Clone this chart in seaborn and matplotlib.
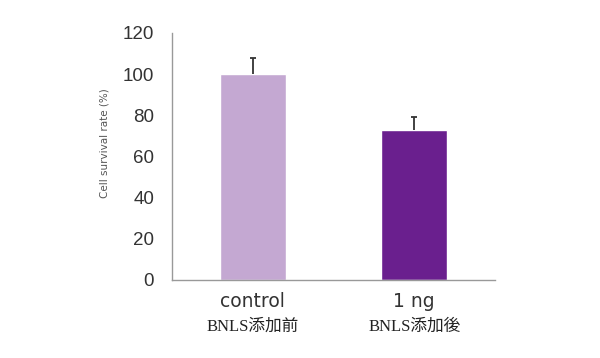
import seaborn as sns
import pandas as pd
import numpy as np
import matplotlib.pyplot as plt

sns.set_style("white")
plt.rcParams['font.family'] = ['Liberation Sans', 'Noto Sans CJK JP']

# data
groups = ['control', '1 ng']
sublabels = ['BNLS添加前', 'BNLS添加後']
survival = [100, 73]
err_up = [8, 6]
colors = ['#c4a8d2', '#6a1f8e']

df = pd.DataFrame({'group': groups, 'survival': survival})

fig = plt.figure(figsize=(6, 3.58), dpi=100)
ax = fig.add_axes([0.287, 0.218, 0.538, 0.69])

sns.barplot(data=df, x='group', y='survival', hue='group', palette=colors,
            width=0.41, saturation=1, legend=False, ax=ax)
eb = ax.errorbar(range(len(groups)), survival, yerr=[[0] * len(groups), err_up],
                 fmt='none', ecolor='#333333', elinewidth=1.3, capsize=2.5, capthick=1.3)
eb[1][0].set_visible(False)  # only the upper cap

ax.set_xlim(-0.5, 1.5)
ax.set_ylim(0, 120)
ax.set_yticks(np.arange(0, 121, 20))
ax.set_xlabel('')
ax.set_ylabel('Cell survival rate (%)', fontsize=7.5, color='#555555',
              family=['DejaVu Sans'])
ax.yaxis.set_label_coords(-0.195, 0.555)

for side in ['top', 'right']:
    ax.spines[side].set_visible(False)
for side in ['left', 'bottom']:
    ax.spines[side].set_color('#999999')
    ax.spines[side].set_linewidth(1.0)

ax.tick_params(axis='y', which='major', direction='out', length=3, color='#aaaaaa',
               labelsize=13.5, labelcolor='#333333', pad=10)
ax.tick_params(axis='x', which='major', length=0, labelcolor='#333333', pad=9)
for t in ax.get_xticklabels():
    t.set_family(['DejaVu Sans'])
    t.set_fontsize(13.5)
ax.set_xticks([-0.5, 0.5, 1.5], minor=True)
ax.tick_params(axis='x', which='minor', direction='in', length=3, color='#999999')

for i, lab in enumerate(sublabels):
    ax.text(i, -0.19, lab, transform=ax.get_xaxis_transform(), ha='center', va='center',
            fontsize=12, color='#222222', family=['Liberation Serif', 'Noto Sans CJK JP'])

fig.savefig('out.png', dpi=100)
